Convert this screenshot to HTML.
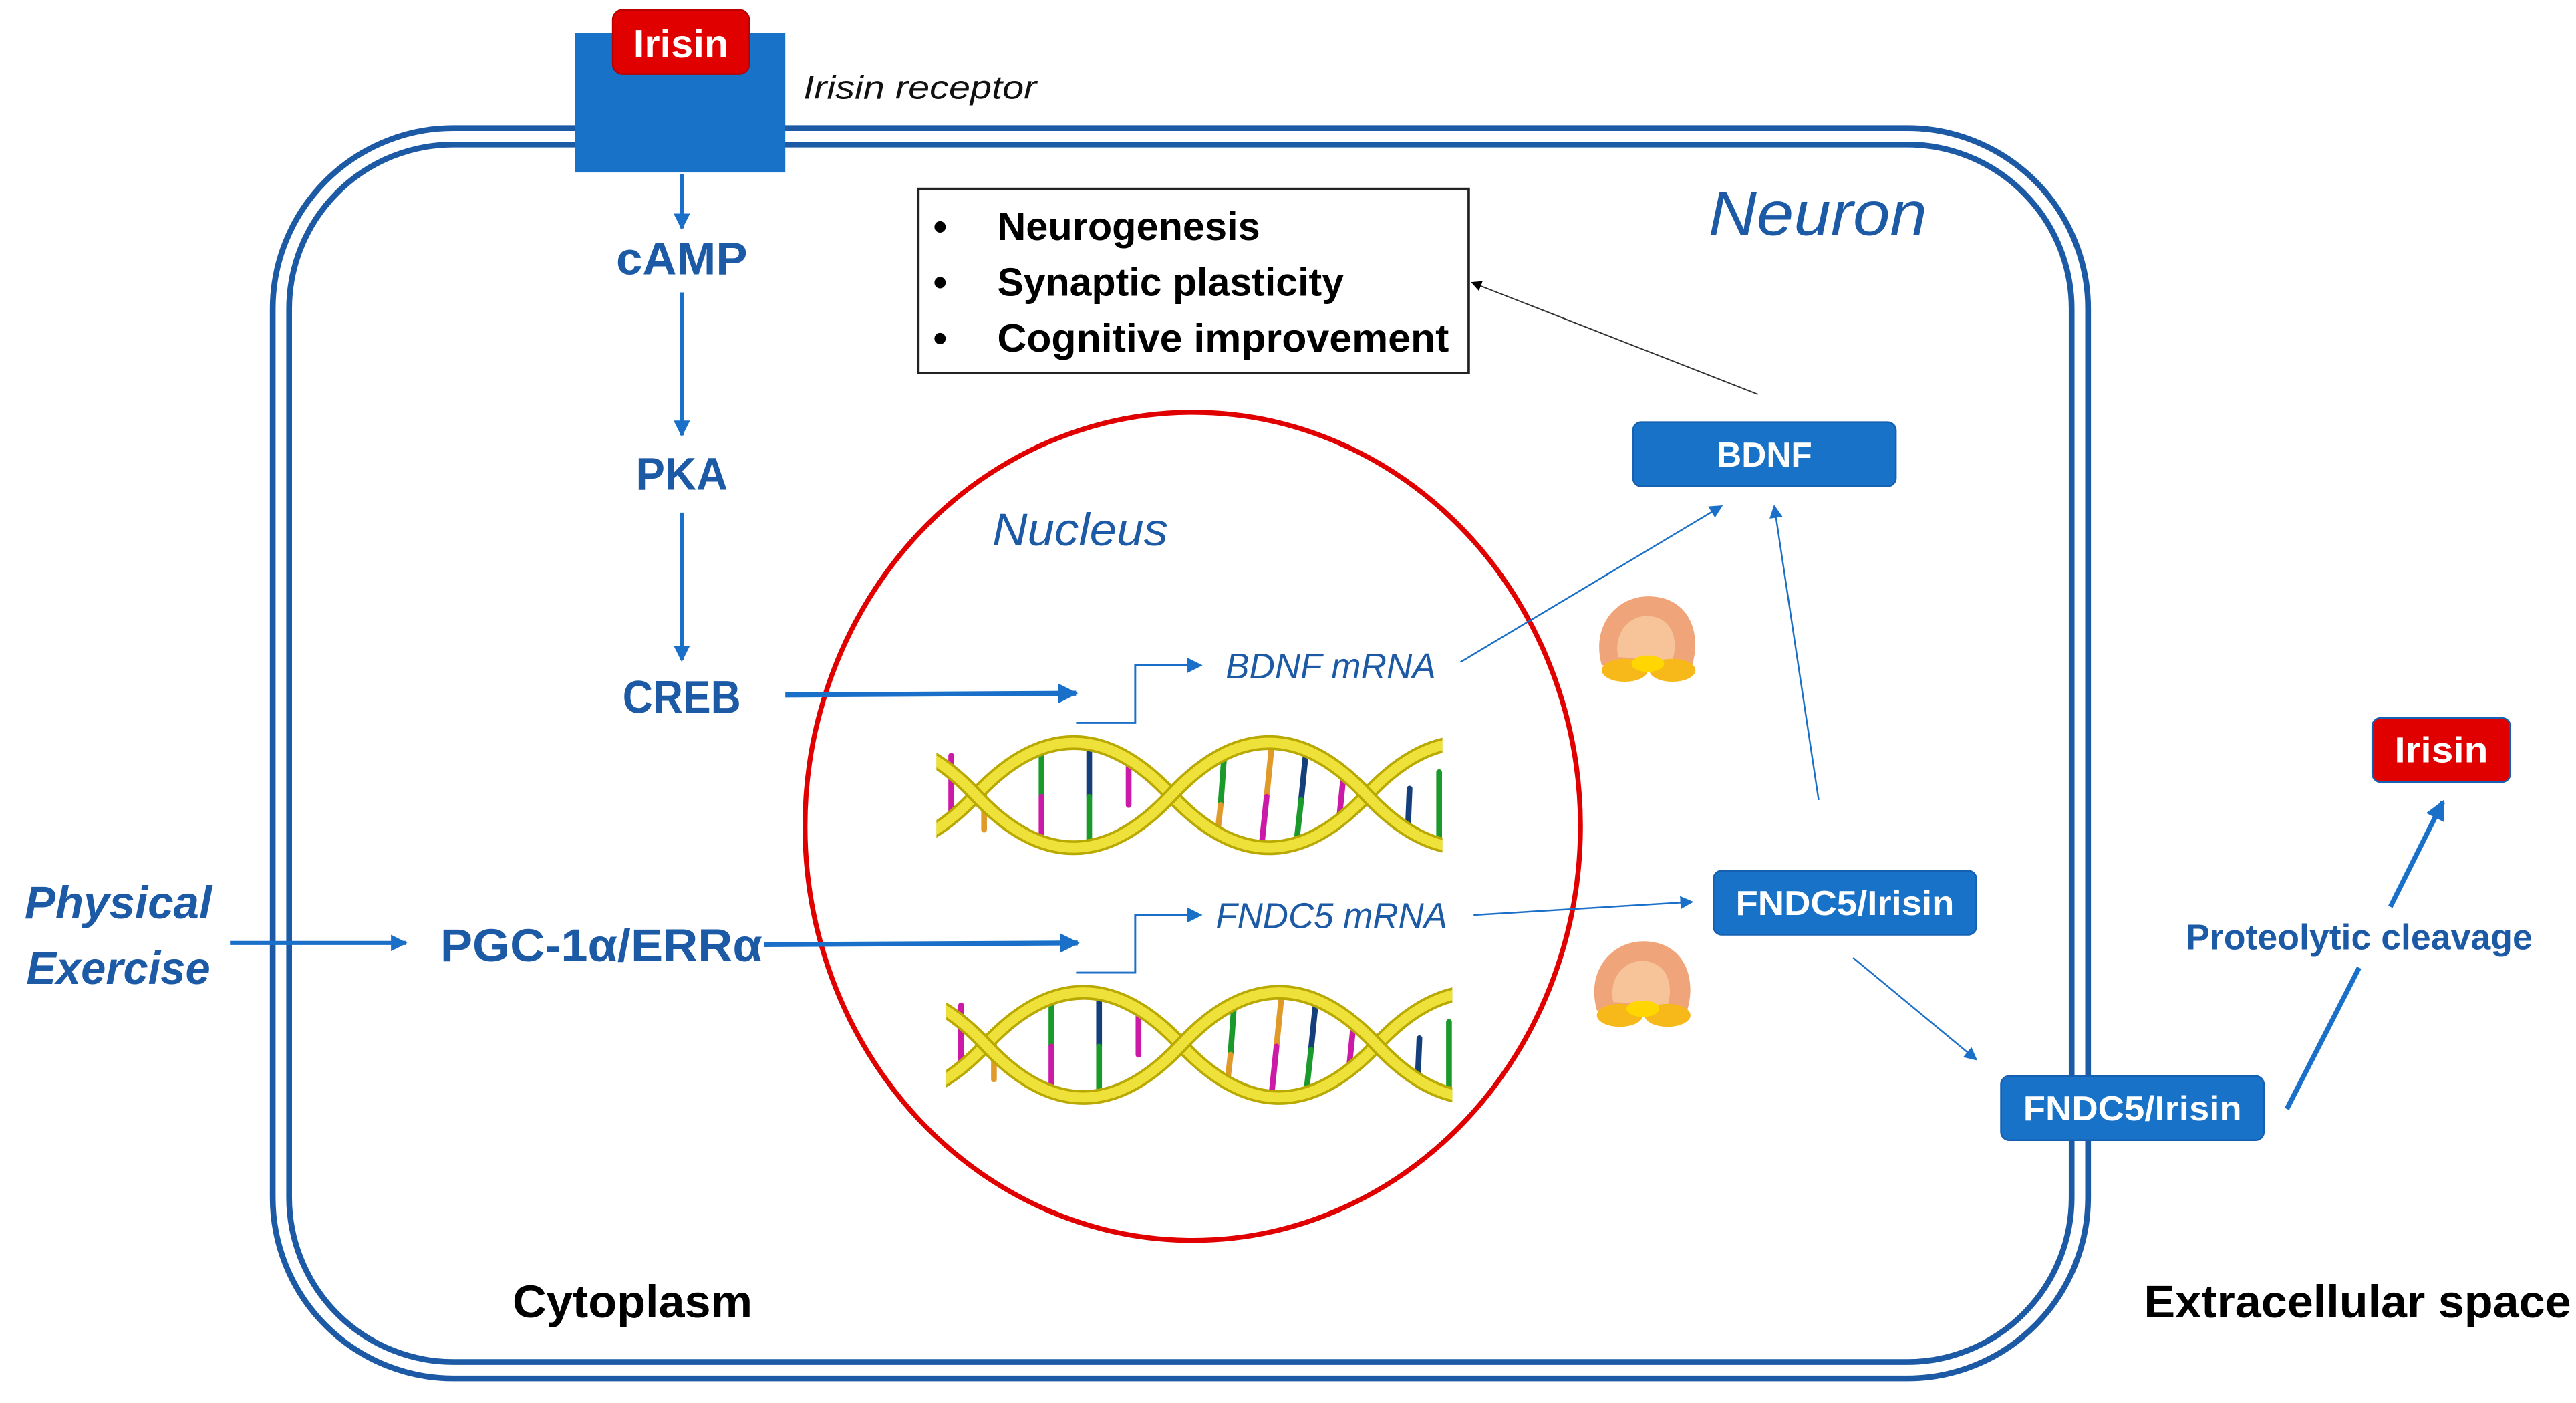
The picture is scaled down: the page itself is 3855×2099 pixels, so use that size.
<!DOCTYPE html>
<html><head><meta charset="utf-8"><style>
html,body{margin:0;padding:0;background:#fff}
svg{display:block}
text{font-family:"Liberation Sans",sans-serif}
</style></head><body>
<svg width="3855" height="2099" viewBox="0 0 1568 854" preserveAspectRatio="none" xmlns="http://www.w3.org/2000/svg">
<defs>
<marker id="ab" viewBox="0 0 10 10" refX="9" refY="5" markerWidth="4" markerHeight="4" orient="auto"><path d="M0,0L10,5L0,10z" fill="#1a6fc8"/></marker>
<marker id="as" viewBox="0 0 10 10" refX="9" refY="5" markerWidth="8" markerHeight="8" orient="auto"><path d="M0,0L10,5L0,10z" fill="#1a6fc8"/></marker>
<marker id="ak" viewBox="0 0 10 10" refX="9" refY="5" markerWidth="8" markerHeight="8" orient="auto"><path d="M0,0L10,5L0,10z" fill="#000"/></marker>
<clipPath id="c1"><rect x="570" y="440" width="308" height="90"/></clipPath>
<g id="dna">
<g stroke-width="3.5" stroke-linecap="round">
<line x1="579" y1="460" x2="579" y2="497" stroke="#cc1aa8"/><line x1="599" y1="480" x2="599" y2="505" stroke="#e09a2a"/>
<line x1="634" y1="455" x2="634" y2="485" stroke="#1a9a2a"/><line x1="634" y1="485" x2="634" y2="515" stroke="#cc1aa8"/>
<line x1="663" y1="455" x2="663" y2="485" stroke="#143f7a"/><line x1="663" y1="485" x2="663" y2="512" stroke="#1a9a2a"/>
<line x1="687" y1="465" x2="687" y2="490" stroke="#cc1aa8"/>
<line x1="745" y1="462" x2="743" y2="490" stroke="#1a9a2a"/><line x1="743" y1="490" x2="741" y2="508" stroke="#e09a2a"/>
<line x1="774" y1="455" x2="771" y2="485" stroke="#e09a2a"/><line x1="771" y1="485" x2="768" y2="514" stroke="#cc1aa8"/>
<line x1="795" y1="457" x2="792" y2="487" stroke="#143f7a"/><line x1="792" y1="487" x2="789" y2="514" stroke="#1a9a2a"/>
<line x1="818" y1="470" x2="815" y2="500" stroke="#cc1aa8"/>
<line x1="858" y1="480" x2="857" y2="504" stroke="#143f7a"/><line x1="876" y1="470" x2="876" y2="510" stroke="#1a9a2a"/>
</g>
<path d="M475,484 Q534.5,548 594,484 Q653.5,420 713,484 Q772.5,548 832,484 Q891.5,420 951,484" fill="none" stroke="#b8a800" stroke-width="9"/>
<path d="M475,484 Q534.5,548 594,484 Q653.5,420 713,484 Q772.5,548 832,484 Q891.5,420 951,484" fill="none" stroke="#eee23a" stroke-width="6"/>
<path d="M475,484 Q534.5,420 594,484 Q653.5,548 713,484 Q772.5,420 832,484 Q891.5,548 951,484" fill="none" stroke="#b8a800" stroke-width="9"/>
<path d="M475,484 Q534.5,420 594,484 Q653.5,548 713,484 Q772.5,420 832,484 Q891.5,548 951,484" fill="none" stroke="#eee23a" stroke-width="6"/>
</g>
<g id="rb">
<path d="M975,405 C968,380 985,362 1005,363 C1028,364 1036,385 1030,405 Z" fill="#f0a47a"/>
<path d="M985,400 C982,385 992,374 1004,375 C1018,376 1022,390 1018,402 Z" fill="#f7c49a"/>
<ellipse cx="989" cy="408" rx="14" ry="7" fill="#f7b81a"/>
<ellipse cx="1018" cy="408" rx="14" ry="7" fill="#f7b81a"/>
<ellipse cx="1003" cy="404" rx="10" ry="5" fill="#ffd600"/>
</g>
</defs>
<!-- membrane -->
<rect x="166" y="78" width="1105" height="761" rx="110" fill="none" stroke="#1d5aa6" stroke-width="3.5"/>
<rect x="176" y="88" width="1085" height="741" rx="100" fill="none" stroke="#1d5aa6" stroke-width="3.5"/>
<g lengthAdjust="spacingAndGlyphs">
<!-- receptor -->
<rect x="350" y="20" width="128" height="85" fill="#1872c8"/>
<rect x="373" y="6" width="83" height="39" rx="6" fill="#e00000" stroke="#b00" stroke-width="1"/>
<text x="414.5" y="35" font-size="24" font-weight="bold" fill="#fff" text-anchor="middle" textLength="58" lengthAdjust="spacingAndGlyphs">Irisin</text>
<text x="489" y="60" font-size="20" font-style="italic" fill="#111" textLength="142" lengthAdjust="spacingAndGlyphs">Irisin receptor</text>
<!-- cascade -->
<line x1="415" y1="106" x2="415" y2="139" stroke="#1a6fc8" stroke-width="2.5" marker-end="url(#ab)"/>
<text x="415" y="167" font-size="28" font-weight="bold" fill="#1d5aa6" text-anchor="middle" textLength="80" lengthAdjust="spacingAndGlyphs">cAMP</text>
<line x1="415" y1="178" x2="415" y2="265" stroke="#1a6fc8" stroke-width="2.5" marker-end="url(#ab)"/>
<text x="415" y="298" font-size="28" font-weight="bold" fill="#1d5aa6" text-anchor="middle" textLength="56" lengthAdjust="spacingAndGlyphs">PKA</text>
<line x1="415" y1="312" x2="415" y2="402" stroke="#1a6fc8" stroke-width="2.5" marker-end="url(#ab)"/>
<text x="415" y="434" font-size="28" font-weight="bold" fill="#1d5aa6" text-anchor="middle" textLength="72" lengthAdjust="spacingAndGlyphs">CREB</text>
<text x="72" y="559" font-size="28" font-weight="bold" font-style="italic" fill="#1d5aa6" text-anchor="middle" textLength="114" lengthAdjust="spacingAndGlyphs">Physical</text>
<text x="72" y="599" font-size="28" font-weight="bold" font-style="italic" fill="#1d5aa6" text-anchor="middle" textLength="112" lengthAdjust="spacingAndGlyphs">Exercise</text>
<line x1="140" y1="574" x2="247" y2="574" stroke="#1a6fc8" stroke-width="2.5" marker-end="url(#ab)"/>
<text x="268" y="585" font-size="28" font-weight="bold" fill="#1d5aa6" textLength="196" lengthAdjust="spacingAndGlyphs">PGC-1α/ERRα</text>
<!-- bullet box -->
<rect x="559" y="115" width="335" height="112" fill="#fff" stroke="#222" stroke-width="1.5"/>
<g font-size="24" font-weight="bold" fill="#000">
<text x="568" y="146">•</text><text x="607" y="146" textLength="160" lengthAdjust="spacingAndGlyphs">Neurogenesis</text>
<text x="568" y="180">•</text><text x="607" y="180" textLength="211" lengthAdjust="spacingAndGlyphs">Synaptic plasticity</text>
<text x="568" y="214">•</text><text x="607" y="214" textLength="275" lengthAdjust="spacingAndGlyphs">Cognitive improvement</text>
</g>
<text x="1040" y="143" font-size="38" font-style="italic" fill="#1d5aa6" textLength="133" lengthAdjust="spacingAndGlyphs">Neuron</text>
<!-- nucleus -->
<ellipse cx="726" cy="503" rx="236" ry="252" fill="none" stroke="#e00000" stroke-width="3"/>
<text x="604" y="332" font-size="28" font-style="italic" fill="#1d5aa6" textLength="107" lengthAdjust="spacingAndGlyphs">Nucleus</text>
<line x1="478" y1="423" x2="655" y2="422" stroke="#1a6fc8" stroke-width="3" marker-end="url(#ab)"/>
<line x1="465" y1="575" x2="656" y2="574" stroke="#1a6fc8" stroke-width="3" marker-end="url(#ab)"/>
<polyline points="655,440 691,440 691,405 731,405" fill="none" stroke="#1a6fc8" stroke-width="1.2" marker-end="url(#as)"/>
<polyline points="655,592 691,592 691,557 731,557" fill="none" stroke="#1a6fc8" stroke-width="1.2" marker-end="url(#as)"/>
<text x="746" y="413" font-size="22" font-style="italic" fill="#1d5aa6" textLength="128" lengthAdjust="spacingAndGlyphs">BDNF mRNA</text>
<text x="740" y="565" font-size="22" font-style="italic" fill="#1d5aa6" textLength="141" lengthAdjust="spacingAndGlyphs">FNDC5 mRNA</text>
<!-- DNA -->
<g clip-path="url(#c1)"><use href="#dna"/></g>
<g transform="translate(6,152)"><g clip-path="url(#c1)"><use href="#dna"/></g></g>
<!-- ribosomes -->
<use href="#rb"/>
<use href="#rb" transform="translate(-3,210)"/>
<!-- boxes -->
<rect x="994" y="257" width="160" height="39" rx="5" fill="#1872c8" stroke="#1560b0"/>
<text x="1074" y="284" font-size="21" font-weight="bold" fill="#fff" text-anchor="middle" textLength="58" lengthAdjust="spacingAndGlyphs">BDNF</text>
<rect x="1043" y="530" width="160" height="39" rx="5" fill="#1872c8" stroke="#1560b0"/>
<text x="1123" y="557" font-size="21" font-weight="bold" fill="#fff" text-anchor="middle" textLength="133" lengthAdjust="spacingAndGlyphs">FNDC5/Irisin</text>
<rect x="1218" y="655" width="160" height="39" rx="5" fill="#1872c8" stroke="#1560b0"/>
<text x="1298" y="682" font-size="21" font-weight="bold" fill="#fff" text-anchor="middle" textLength="133" lengthAdjust="spacingAndGlyphs">FNDC5/Irisin</text>
<rect x="1444" y="437" width="84" height="39" rx="5" fill="#e00000" stroke="#1560b0"/>
<text x="1486" y="464" font-size="22" font-weight="bold" fill="#fff" text-anchor="middle" textLength="57" lengthAdjust="spacingAndGlyphs">Irisin</text>
<!-- connectors -->
<line x1="889" y1="403" x2="1048" y2="308" stroke="#1a6fc8" stroke-width="1" marker-end="url(#as)"/>
<line x1="1107" y1="487" x2="1080" y2="308" stroke="#1a6fc8" stroke-width="1" marker-end="url(#as)"/>
<line x1="897" y1="557" x2="1030" y2="549" stroke="#1a6fc8" stroke-width="1" marker-end="url(#as)"/>
<line x1="1128" y1="583" x2="1203" y2="645" stroke="#1a6fc8" stroke-width="1" marker-end="url(#as)"/>
<line x1="1070" y1="240" x2="896" y2="172" stroke="#333" stroke-width="0.8" marker-end="url(#ak)"/>
<line x1="1392" y1="675" x2="1436" y2="589" stroke="#1a6fc8" stroke-width="3"/>
<line x1="1455" y1="552" x2="1487" y2="488" stroke="#1a6fc8" stroke-width="3" marker-end="url(#ab)"/>
<text x="1436" y="578" font-size="22" font-weight="bold" fill="#1d5aa6" text-anchor="middle" textLength="211" lengthAdjust="spacingAndGlyphs">Proteolytic cleavage</text>
<text x="312" y="802" font-size="28" font-weight="bold" fill="#000" textLength="146" lengthAdjust="spacingAndGlyphs">Cytoplasm</text>
<text x="1305" y="802" font-size="28" font-weight="bold" fill="#000" textLength="260" lengthAdjust="spacingAndGlyphs">Extracellular space</text>
</g>
</svg>
</body></html>
